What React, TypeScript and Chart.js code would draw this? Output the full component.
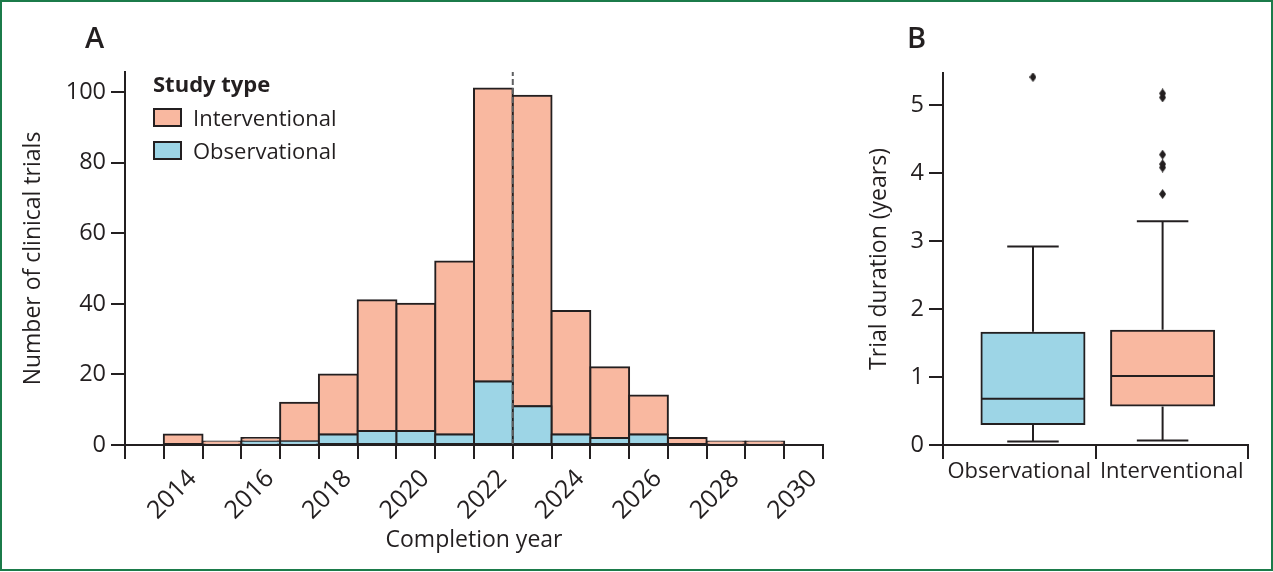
import React, { useEffect, useRef } from 'react';
import { Chart, registerables } from 'chart.js';

Chart.register(...registerables);

// ---------- shared styling ----------
const INK = '#231f20';
const SALMON = '#f9b8a0';
const SKY = '#9dd5e6';
const REF_GREY = '#5f6062';
const FRAME_GREEN = '#1b7b4a';
const FONT = "'Open Sans', sans-serif";

// ---------- Panel A data ----------
const BIN_START_YEARS = [2012, 2013, 2014, 2015, 2016, 2017, 2018, 2019, 2020, 2021, 2022, 2023, 2024, 2025, 2026, 2027, 2028, 2029];
const OBSERVATIONAL_COUNTS = [0, 0, 0, 1, 1, 3, 4, 4, 3, 18, 11, 3, 2, 3, 0, 0, 0, 0];
const INTERVENTIONAL_COUNTS = [0, 3, 1, 1, 11, 17, 37, 36, 49, 83, 88, 35, 20, 11, 2, 1, 1, 0];
const YEAR_TICKS = [2012, 2013, 2014, 2015, 2016, 2017, 2018, 2019, 2020, 2021, 2022, 2023, 2024, 2025, 2026, 2027, 2028, 2029, 2030];
const YEAR_TICK_LABELS = ['2014', '2016', '2018', '2020', '2022', '2024', '2026', '2028', '2030'];
const COUNT_TICKS = [0, 20, 40, 60, 80, 100];
const COUNT_AXIS_MAX = 105.7;
const REFERENCE_YEAR = 2022;
const SERIES_NAMES = ['Observational', 'Interventional'];

// ---------- Panel B data ----------
const STUDY_TYPES = ['Observational', 'Interventional'];
const BOX_POSITIONS = [0.59, 1.44];
const BOX_MIN = [0.05, 0.065];
const BOX_Q1 = [0.31, 0.58];
const BOX_MEDIAN = [0.68, 1.015];
const BOX_Q3 = [1.65, 1.68];
const BOX_MAX = [2.92, 3.29];
const OBSERVATIONAL_OUTLIERS = [5.41];
const INTERVENTIONAL_OUTLIERS = [5.11, 5.17, 4.27, 4.08, 4.13, 3.69];
const DURATION_TICKS = [0, 1, 2, 3, 4, 5];
const DURATION_AXIS_MAX = 5.47;

const axisGrid = {
  display: true,
  drawOnChartArea: false,
  drawTicks: true,
  tickLength: 14,
  tickWidth: 2,
  tickColor: INK,
  color: INK,
  lineWidth: 2,
  offset: false,
};
const axisBorder = { display: true, color: INK, width: 2, z: 1 };
const tickFont = { family: FONT, size: 23.5 };
const yearTickFont = { family: FONT, size: 25 };
const groupTickFont = { family: FONT, size: 22 };
const titleFont = { family: FONT, size: 23 };

function makeDiamond(): HTMLCanvasElement {
  const c = document.createElement('canvas');
  c.width = 7;
  c.height = 10;
  const g = c.getContext('2d') as CanvasRenderingContext2D;
  g.fillStyle = INK;
  g.beginPath();
  g.moveTo(3.5, 0);
  g.lineTo(7, 5);
  g.lineTo(3.5, 10);
  g.lineTo(0, 5);
  g.closePath();
  g.fill();
  return c;
}

function HistogramPanel() {
  const ref = useRef<HTMLCanvasElement | null>(null);
  useEffect(() => {
    const barCommon = {
      borderColor: INK,
      borderWidth: 2,
      borderSkipped: false,
      inflateAmount: 1,
      barPercentage: 1,
      categoryPercentage: 1,
      stack: 'trials',
    };
    const chart = new Chart(ref.current as HTMLCanvasElement, {
      type: 'bar',
      data: {
        datasets: [
          {
            ...barCommon,
            label: SERIES_NAMES[0],
            data: BIN_START_YEARS.map((yr, i) => ({ x: yr + 0.5, y: OBSERVATIONAL_COUNTS[i] })),
            backgroundColor: SKY,
          } as any,
          {
            ...barCommon,
            label: SERIES_NAMES[1],
            data: BIN_START_YEARS.map((yr, i) => ({ x: yr + 0.5, y: INTERVENTIONAL_COUNTS[i] })),
            backgroundColor: SALMON,
          } as any,
          {
            type: 'line',
            label: 'reference',
            data: [
              { x: REFERENCE_YEAR, y: 0 },
              { x: REFERENCE_YEAR, y: COUNT_AXIS_MAX },
            ],
            borderColor: REF_GREY,
            borderWidth: 2,
            borderDash: [6, 3],
            pointRadius: 0,
            stack: 'ref',
            order: -1,
          } as any,
        ],
      },
      options: {
        responsive: false,
        animation: false,
        events: [],
        layout: { padding: { left: 0, right: 27, top: 72, bottom: 0 } },
        plugins: { legend: { display: false }, tooltip: { enabled: false } },
        scales: {
          x: {
            type: 'linear',
            min: YEAR_TICKS[0],
            max: YEAR_TICKS[YEAR_TICKS.length - 1],
            stacked: true,
            offset: false,
            grid: axisGrid,
            border: axisBorder,
            afterBuildTicks: (s: any) => {
              s.ticks = YEAR_TICKS.map((v) => ({ value: v }));
            },
            afterFit: (s: any) => {
              s.height = 127;
            },
            ticks: {
              autoSkip: false,
              minRotation: 45,
              maxRotation: 45,
              padding: 5,
              labelOffset: -10,
              color: INK,
              font: yearTickFont,
              callback: (v: any) => (YEAR_TICK_LABELS.includes(String(v)) ? String(v) : ''),
            },
            title: {
              display: true,
              text: 'Completion year',
              color: INK,
              font: titleFont,
              padding: { top: 0, bottom: 18 },
            },
          } as any,
          y: {
            type: 'linear',
            min: 0,
            max: COUNT_AXIS_MAX,
            stacked: true,
            grid: axisGrid,
            border: axisBorder,
            afterBuildTicks: (s: any) => {
              s.ticks = COUNT_TICKS.map((v) => ({ value: v }));
            },
            afterFit: (s: any) => {
              s.width = 125;
            },
            ticks: { color: INK, font: tickFont, padding: 5 },
            title: {
              display: true,
              text: 'Number of clinical trials',
              color: INK,
              font: titleFont,
              padding: { top: 20, bottom: 0 },
            },
          } as any,
        },
      },
    });
    return () => chart.destroy();
  }, []);
  return (
    <canvas
      ref={ref}
      width={850}
      height={572}
      style={{ position: 'absolute', left: 0, top: 0, width: 850, height: 572 }}
    />
  );
}

const boxWhiskerPlugin = {
  id: 'boxWhiskers',
  afterDatasetsDraw(chart: any) {
    const meta = chart.getDatasetMeta(0);
    const yScale = chart.scales.y;
    const ctx = chart.ctx;
    ctx.save();
    ctx.strokeStyle = INK;
    ctx.lineWidth = 2;
    ctx.lineCap = 'butt';
    const seg = (x1: number, y1: number, x2: number, y2: number) => {
      ctx.beginPath();
      ctx.moveTo(x1, y1);
      ctx.lineTo(x2, y2);
      ctx.stroke();
    };
    meta.data.forEach((bar: any, i: number) => {
      const { x, width } = bar.getProps(['x', 'width'], true);
      const half = width / 2;
      const cap = width / 4;
      const yMin = yScale.getPixelForValue(BOX_MIN[i]);
      const yQ1 = yScale.getPixelForValue(BOX_Q1[i]);
      const yMed = yScale.getPixelForValue(BOX_MEDIAN[i]);
      const yQ3 = yScale.getPixelForValue(BOX_Q3[i]);
      const yMax = yScale.getPixelForValue(BOX_MAX[i]);
      seg(x - half, yMed, x + half, yMed);
      seg(x, yQ3 - 1, x, yMax);
      seg(x - cap, yMax, x + cap, yMax);
      seg(x, yQ1 + 1, x, yMin);
      seg(x - cap, yMin, x + cap, yMin);
    });
    ctx.restore();
  },
};

function BoxPanel() {
  const ref = useRef<HTMLCanvasElement | null>(null);
  useEffect(() => {
    const outliers = [
      ...OBSERVATIONAL_OUTLIERS.map((v) => ({ x: BOX_POSITIONS[0], y: v })),
      ...INTERVENTIONAL_OUTLIERS.map((v) => ({ x: BOX_POSITIONS[1], y: v })),
    ];
    const chart = new Chart(ref.current as HTMLCanvasElement, {
      type: 'bar',
      data: {
        datasets: [
          {
            label: 'Interquartile range',
            data: STUDY_TYPES.map((_, i) => ({ x: BOX_POSITIONS[i], y: [BOX_Q1[i], BOX_Q3[i]] })),
            backgroundColor: [SKY, SALMON],
            borderColor: INK,
            borderWidth: 2,
            borderSkipped: false,
            inflateAmount: 1,
            barThickness: 103,
          } as any,
          {
            type: 'scatter',
            label: 'Outliers',
            data: outliers,
            pointStyle: makeDiamond(),
            pointRadius: 5,
            backgroundColor: INK,
            borderColor: INK,
            borderWidth: 0,
          } as any,
        ],
      },
      options: {
        responsive: false,
        animation: false,
        events: [],
        layout: { padding: { left: 0, right: 25, top: 73, bottom: 0 } },
        plugins: { legend: { display: false }, tooltip: { enabled: false } },
        scales: {
          x: {
            type: 'linear',
            min: 0,
            max: STUDY_TYPES.length,
            offset: false,
            grid: {
              ...axisGrid,
              tickColor: (c: any) =>
                c.tick && Number.isInteger(c.tick.value) ? INK : 'rgba(0,0,0,0)',
            },
            border: axisBorder,
            afterBuildTicks: (s: any) => {
              const t: { value: number }[] = [];
              for (let i = 0; i <= STUDY_TYPES.length; i++) {
                t.push({ value: i });
                if (i < STUDY_TYPES.length) t.push({ value: i + 0.5 });
              }
              s.ticks = t;
            },
            afterFit: (s: any) => {
              s.height = 127;
            },
            ticks: {
              autoSkip: false,
              minRotation: 0,
              maxRotation: 0,
              padding: 0,
              color: INK,
              font: groupTickFont,
              callback: (v: any) => {
                const idx = Number(v) - 0.5;
                return Number.isInteger(idx) && STUDY_TYPES[idx] ? STUDY_TYPES[idx] : '';
              },
            },
          } as any,
          y: {
            type: 'linear',
            min: 0,
            max: DURATION_AXIS_MAX,
            grid: axisGrid,
            border: axisBorder,
            afterBuildTicks: (s: any) => {
              s.ticks = DURATION_TICKS.map((v) => ({ value: v }));
            },
            afterFit: (s: any) => {
              s.width = 93;
            },
            ticks: { color: INK, font: tickFont, padding: 5 },
            title: {
              display: true,
              text: 'Trial duration (years)',
              color: INK,
              font: titleFont,
              padding: { top: 16, bottom: 0 },
            },
          } as any,
        },
      },
      plugins: [boxWhiskerPlugin],
    });
    return () => chart.destroy();
  }, []);
  return (
    <canvas
      ref={ref}
      width={423}
      height={572}
      style={{ position: 'absolute', left: 850, top: 0, width: 423, height: 572 }}
    />
  );
}

function LegendA() {
  const items = [
    { label: SERIES_NAMES[1], color: SALMON },
    { label: SERIES_NAMES[0], color: SKY },
  ];
  return (
    <div style={{ position: 'absolute', left: 153, top: 70, fontFamily: FONT, color: INK }}>
      <div style={{ fontWeight: 700, fontSize: 22, lineHeight: '27px', height: 27, whiteSpace: 'nowrap' }}>
        Study type
      </div>
      {items.map((it, i) => (
        <div
          key={it.label}
          style={{
            position: 'absolute',
            left: 0,
            top: 34 + i * 33,
            height: 27,
            display: 'flex',
            alignItems: 'center',
            whiteSpace: 'nowrap',
          }}
        >
          <div
            style={{
              width: 29,
              height: 19,
              boxSizing: 'border-box',
              border: `2px solid ${INK}`,
              background: it.color,
              marginRight: 11,
            }}
          />
          <span style={{ fontSize: 22, lineHeight: '27px' }}>{it.label}</span>
        </div>
      ))}
    </div>
  );
}

export default function App() {
  const panelLabel = (text: string, left: number) => (
    <div
      style={{
        position: 'absolute',
        left,
        top: 22,
        fontFamily: FONT,
        fontWeight: 600,
        fontSize: 29,
        lineHeight: '29px',
        color: INK,
      }}
    >
      {text}
    </div>
  );
  return (
    <div
      style={{
        position: 'absolute',
        left: 0,
        top: 0,
        width: 1273,
        height: 572,
        background: '#ffffff',
        overflow: 'hidden',
      }}
    >
      <HistogramPanel />
      <BoxPanel />
      <LegendA />
      {panelLabel('A', 85)}
      {panelLabel('B', 907)}
      <div
        style={{
          position: 'absolute',
          left: 0,
          top: 0,
          width: 1273,
          height: 571,
          boxSizing: 'border-box',
          border: `2px solid ${FRAME_GREEN}`,
          pointerEvents: 'none',
        }}
      />
    </div>
  );
}
